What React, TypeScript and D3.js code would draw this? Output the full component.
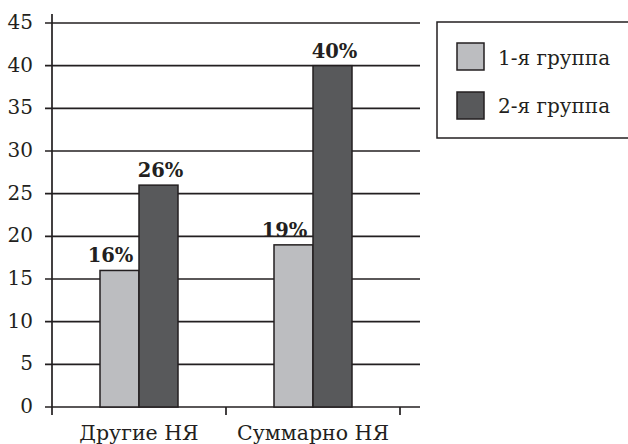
import React from "react";
import * as d3 from "d3";

const categories = ["Другие НЯ", "Суммарно НЯ"];
const seriesNames = ["1-я группа", "2-я группа"];
const group1 = [16, 19];
const group2 = [26, 40];
const yTicks = [0, 5, 10, 15, 20, 25, 30, 35, 40, 45];

const colors = ["#bcbdc0", "#58595b"];
const FONT = "DejaVu Serif";
// value labels of the light series sit slightly left of their bars
const labelShift = [-9, 2];

export default function App() {
  const width = 628;
  const height = 444;
  const x0 = 52;
  const x1 = 400;
  const yBottom = 407;
  const yTop = 23;

  const x = d3.scaleBand<string>().domain(categories).range([x0, x1]).paddingInner(0).paddingOuter(0);
  const y = d3.scaleLinear().domain([0, 45]).range([yBottom, yTop]);
  const barW = 39;
  const series = [group1, group2];
  const ts = { fontFamily: FONT } as React.CSSProperties;

  return (
    <svg
      width={width}
      height={height}
      style={{ position: "absolute", left: 0, top: 0, background: "#fff" }}
    >
      {/* horizontal gridlines with left tick marks */}
      {yTicks.map((t) => (
        <g key={t}>
          <line x1={45} x2={420} y1={y(t)} y2={y(t)} stroke="#231f20" strokeWidth={1.7} />
          <text x={33} y={y(t) + 6} textAnchor="end" fontSize={20} fill="#231f20" style={ts}>
            {t}
          </text>
        </g>
      ))}
      {/* y axis */}
      <line x1={x0} x2={x0} y1={14} y2={yBottom} stroke="#231f20" strokeWidth={1.7} />
      {/* category boundary ticks */}
      {[x0, x0 + x.bandwidth(), x1].map((px, i) => (
        <line key={i} x1={px} x2={px} y1={yBottom} y2={415} stroke="#231f20" strokeWidth={1.7} />
      ))}
      {/* bars */}
      {categories.map((c, ci) => {
        const cx = (x(c) as number) + x.bandwidth() / 2;
        return series.map((vals, si) => {
          const bx = cx + (si === 0 ? -barW : 0);
          const v = vals[ci];
          return (
            <g key={`${c}-${si}`}>
              <rect
                x={bx}
                y={y(v)}
                width={barW}
                height={yBottom - y(v)}
                fill={colors[si]}
                stroke="#231f20"
                strokeWidth={1.5}
              />
              <text
                x={bx + barW / 2 + labelShift[si]}
                y={y(v) - 8}
                textAnchor="middle"
                fontSize={19.5}
                fontWeight="bold"
                fill="#231f20"
                style={ts}
              >
                {v}%
              </text>
            </g>
          );
        });
      })}
      {/* category labels */}
      {categories.map((c) => (
        <text
          key={c}
          x={(x(c) as number) + x.bandwidth() / 2}
          y={440}
          textAnchor="middle"
          fontSize={20.5}
          fill="#231f20"
          style={ts}
        >
          {c}
        </text>
      ))}
      {/* legend */}
      <rect x={437} y={22} width={200} height={116} fill="#fff" stroke="#231f20" strokeWidth={1.5} />
      {seriesNames.map((n, i) => (
        <g key={n}>
          <rect
            x={457}
            y={43 + i * 49}
            width={27}
            height={27}
            fill={colors[i]}
            stroke="#231f20"
            strokeWidth={1.5}
          />
          <text x={498} y={65 + i * 48} fontSize={20} fill="#231f20" style={ts}>
            {n}
          </text>
        </g>
      ))}
    </svg>
  );
}
